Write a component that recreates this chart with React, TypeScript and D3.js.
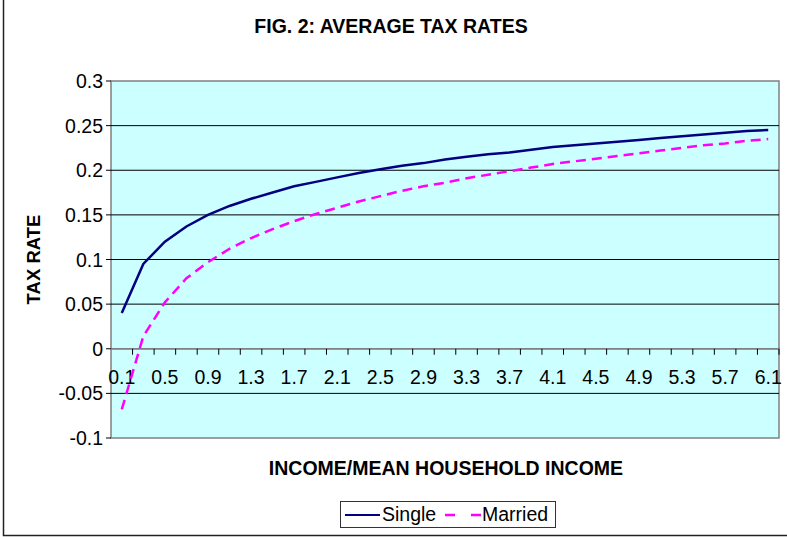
import * as d3 from "d3"

const incomes = [
  0.1, 0.3, 0.5, 0.7, 0.9, 1.1, 1.3, 1.5, 1.7, 1.9, 2.1, 2.3, 2.5, 2.7, 2.9, 3.1,
  3.3, 3.5, 3.7, 3.9, 4.1, 4.3, 4.5, 4.7, 4.9, 5.1, 5.3, 5.5, 5.7, 5.9, 6.1,
]

const single = [
  0.04, 0.095, 0.12, 0.137, 0.15, 0.16, 0.168, 0.175, 0.182, 0.187, 0.192, 0.197,
  0.201, 0.205, 0.208, 0.212, 0.215, 0.218, 0.22, 0.223, 0.226, 0.228, 0.23, 0.232,
  0.234, 0.236, 0.238, 0.24, 0.242, 0.244, 0.245,
]

const married = [
  -0.068, 0.014, 0.052, 0.079, 0.097, 0.112, 0.124, 0.134, 0.143, 0.151, 0.158,
  0.165, 0.171, 0.177, 0.182, 0.186, 0.191, 0.195, 0.199, 0.203, 0.207, 0.21, 0.213,
  0.216, 0.219, 0.222, 0.225, 0.228, 0.23, 0.233, 0.235,
]

const yTicks = [-0.1, -0.05, 0, 0.05, 0.1, 0.15, 0.2, 0.25, 0.3]

const W = 787
const H = 537
const plot = { l: 111, r: 779, t: 81, b: 438 }
const font = "Arial, 'Liberation Sans', sans-serif"
const fs = 19.5

export default function App() {
  const x = d3
    .scaleBand<string>()
    .domain(incomes.map(String))
    .range([plot.l, plot.r])

  const y = d3.scaleLinear().domain([-0.1, 0.3]).range([plot.b, plot.t])

  const cx = (i: number) => (x(String(incomes[i])) || 0) + x.bandwidth() / 2

  const line = d3
    .line<number>()
    .x((_, i) => cx(i))
    .y((d) => y(d))

  const y0 = y(0)

  return (
    <svg
      width={W}
      height={H}
      style={{ position: "absolute", left: 0, top: 0, fontFamily: font }}
    >
      <rect x={0} y={0} width={W} height={H} fill="white" />
      <rect
        x={3.5}
        y={-5}
        width={W + 10}
        height={535.5 + 5}
        fill="none"
        stroke="#222"
        strokeWidth={1.5}
      />

      <text x={391} y={33} textAnchor="middle" fontSize={fs} fontWeight="bold">
        FIG. 2: AVERAGE TAX RATES
      </text>

      <rect
        x={plot.l}
        y={plot.t}
        width={plot.r - plot.l}
        height={plot.b - plot.t}
        fill="#CCFFFF"
        stroke="#808080"
        strokeWidth={1.5}
      />

      {yTicks.map((t) => (
        <g key={t}>
          {t > -0.1 && t < 0.3 && (
            <line
              x1={plot.l}
              x2={plot.r}
              y1={y(t)}
              y2={y(t)}
              stroke="#000"
              strokeWidth={1}
            />
          )}
          <line x1={plot.l - 5} x2={plot.l} y1={y(t)} y2={y(t)} stroke="#000" />
          <text
            x={plot.l - 8}
            y={y(t)}
            dy="0.36em"
            textAnchor="end"
            fontSize={fs}
          >
            {t}
          </text>
        </g>
      ))}

      <line x1={plot.l} x2={plot.r} y1={y0} y2={y0} stroke="#808080" strokeWidth={1.5} />
      {incomes.map((v) => (
        <line
          key={v}
          x1={(x(String(v)) || 0) + x.bandwidth()}
          x2={(x(String(v)) || 0) + x.bandwidth()}
          y1={y0}
          y2={y0 + 6}
          stroke="#000"
        />
      ))}
      {incomes.map((v, i) =>
        i % 2 === 0 ? (
          <text key={v} x={cx(i)} y={y0 + 35} textAnchor="middle" fontSize={fs}>
            {v}
          </text>
        ) : null,
      )}

      <path
        d={line(married) || ""}
        fill="none"
        stroke="#FF00FF"
        strokeWidth={2.5}
        strokeDasharray="10 6"
      />
      <path d={line(single) || ""} fill="none" stroke="#000080" strokeWidth={2.5} />

      <text
        transform={`translate(40, ${(plot.t + plot.b) / 2}) rotate(-90)`}
        textAnchor="middle"
        fontSize={18.5}
        fontWeight="bold"
      >
        TAX RATE
      </text>

      <text x={446} y={475} textAnchor="middle" fontSize={fs} fontWeight="bold">
        INCOME/MEAN HOUSEHOLD INCOME
      </text>

      <g>
        <rect x={340.5} y={501.5} width={215} height={26} fill="white" stroke="#333" />
        <line x1={345} x2={380} y1={515} y2={515} stroke="#000080" strokeWidth={2} />
        <text x={382} y={521} fontSize={fs}>
          Single
        </text>
        <line
          x1={445}
          x2={481}
          y1={515}
          y2={515}
          stroke="#FF00FF"
          strokeWidth={2.5}
          strokeDasharray="10 16"
        />
        <text x={482} y={521} fontSize={fs}>
          Married
        </text>
      </g>
    </svg>
  )
}
